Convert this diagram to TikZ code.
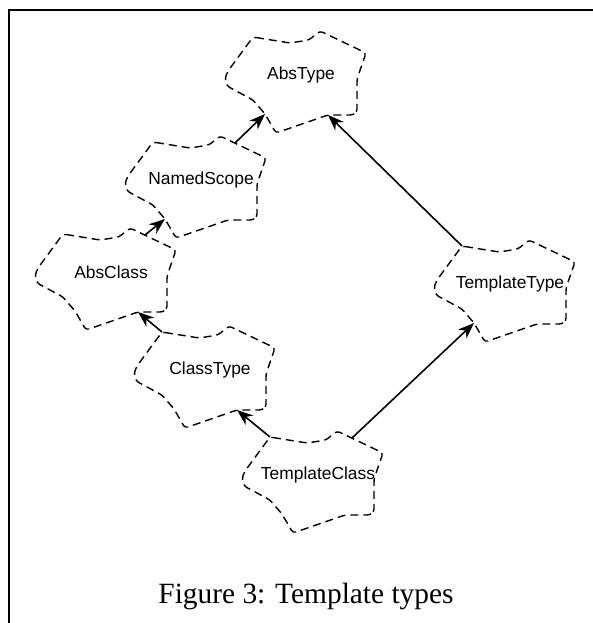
\documentclass[tikz,border=0pt]{standalone}
\usepackage{fontspec}
\setmainfont{Liberation Serif}
\newfontfamily\helv{Liberation Sans}
\usetikzlibrary{arrows.meta}

\begin{document}
\begin{tikzpicture}[x=0.5pt,y=-0.5pt,
% common options for the class names:
cname/.style = {font=\helv\fontsize{8.7}{10}\selectfont, inner sep=0},
% common options for the cloud outlines:
cloudline/.style = {draw, dash pattern=on 4pt off 2.5pt, line width=0.7pt,
            rounded corners=1.5pt},
% common options for the arrows:
inherit/.style = {-{Stealth[length=8pt,width=6pt,inset=2.5pt]}, line width=0.8pt},
% the cloud itself, with the points the arrows use:
cloud/.pic = {
  \draw[cloudline] (-48,-38) -- (-11,-32) -- (8,-35) -- (19,-44) -- (65,-22)
     -- (56,4) -- (56,37) -- (52,40) -- (27,40) -- (-25,58) -- (-36,39)
     -- (-48,25) -- (-74,11) -- (-76,3) -- (-73,-4) -- cycle;
  \coordinate (-nw) at (-48,-38);
  \coordinate (-ne) at (34,-37);
  \coordinate (-sb) at (27,40);
  \coordinate (-notch) at (-36,39);
}]
\useasboundingbox (0,0) rectangle (593,623);
\draw[line width=1pt] (8.5,623) -- (8.5,10) -- (593,10);
\node[cname] (abstype) at (301,75) {AbsType};
\node[cname] (namedscope) at (201,180) {NamedScope};
\node[cname] (absclass) at (111,272) {AbsClass};
\node[cname] (classtype) at (210,370) {ClassType};
\node[cname] (templatetype) at (510,284) {TemplateType};
\node[cname] (templateclass) at (318,475) {TemplateClass};
\pic (abstype) at (abstype) {cloud};
\pic (namedscope) at (namedscope) {cloud};
\pic (absclass) at (absclass) {cloud};
\pic (classtype) at (classtype) {cloud};
\pic (templatetype) at (templatetype) {cloud};
\pic (templateclass) at (templateclass) {cloud};
\draw[inherit] (namedscope-ne) -- (abstype-notch);
\draw[inherit] (absclass-ne) -- (namedscope-notch);
\draw[inherit] (classtype-nw) -- (absclass-sb);
\draw[inherit] (templateclass-nw) -- (classtype-sb);
\draw[inherit] (templateclass-ne) -- (templatetype-notch);
\draw[inherit] (templatetype-nw) -- (abstype-sb);
\node[font=\fontsize{14.7}{17}\selectfont, anchor=base] (caption) at (306,603)
  {Figure 3: Template types};
\end{tikzpicture}
\end{document}
